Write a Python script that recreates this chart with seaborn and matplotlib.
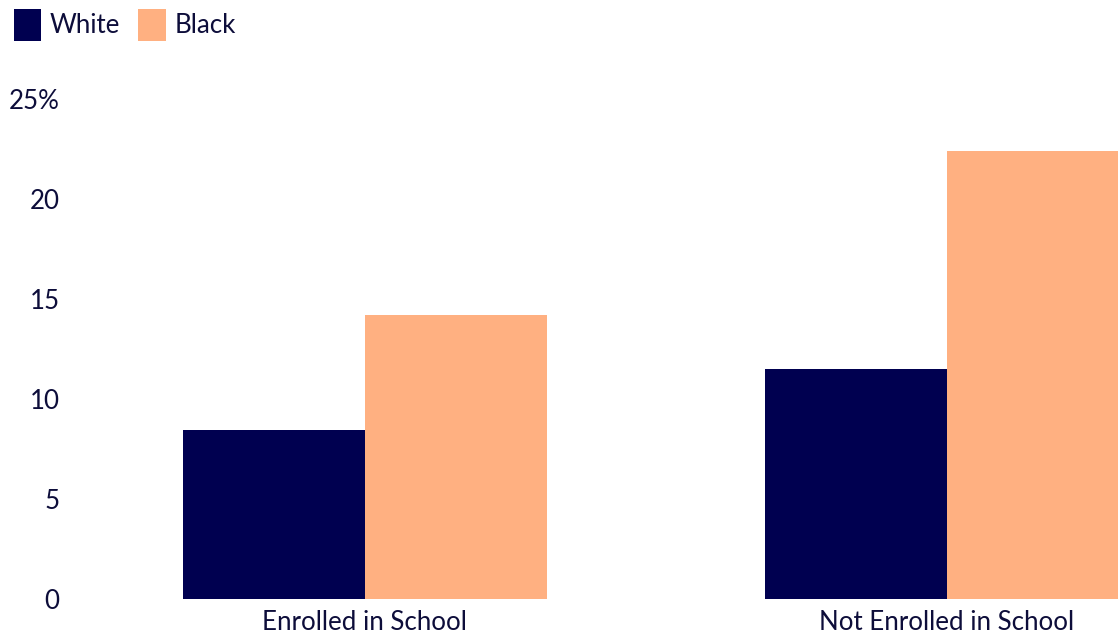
import matplotlib
matplotlib.use("Agg")
import matplotlib.pyplot as plt
from matplotlib.patches import Patch
import seaborn as sns
import pandas as pd

# Share of young people, by school enrollment and race
categories = ["Enrolled in School", "Not Enrolled in School"]
groups = ["White", "Black"]
white_values = [8.45, 11.5]
black_values = [14.2, 22.4]
y_ticks = [0, 5, 10, 15, 20, 25]
y_tick_labels = ["0", "5", "10", "15", "20", "25%"]

colors = {"White": "#000050", "Black": "#FFB081"}
text_color = "#0d0d3a"

df = pd.DataFrame({
    "category": categories * 2,
    "group": ["White"] * len(categories) + ["Black"] * len(categories),
    "value": white_values + black_values,
})

sns.set_style("white")
plt.rcParams["font.family"] = ["Lato", "DejaVu Sans"]

fig = plt.figure(figsize=(11.18, 6.39), dpi=100)
ax = fig.add_axes([0.0671, 0.0626, 0.9329, 0.7825])

sns.barplot(data=df, x="category", y="value", hue="group", hue_order=groups,
            palette=colors, width=0.625, gap=0, saturation=1, legend=False,
            linewidth=0, ax=ax)

ax.set_ylim(0, 25)
ax.set_xlim(-0.498, 1.294)
ax.set_yticks(y_ticks)
ax.set_yticklabels(y_tick_labels)
ax.set_xlabel("")
ax.set_ylabel("")
ax.tick_params(axis="both", length=0, labelsize=18.6, colors=text_color)
ax.tick_params(axis="y", pad=11)
ax.tick_params(axis="x", pad=8)
for s in ax.spines.values():
    s.set_visible(False)

handles = [Patch(facecolor=colors[g], edgecolor="none", label=g) for g in groups]
fig.legend(handles=handles, loc="upper left", bbox_to_anchor=(0.004, 1.0),
           ncol=2, frameon=False, fontsize=18.6, handlelength=1.08,
           handleheight=1.5, handletextpad=0.32, columnspacing=0.7,
           borderaxespad=0.1, borderpad=0.25, labelcolor=text_color)

fig.savefig("out.png", dpi=100)
